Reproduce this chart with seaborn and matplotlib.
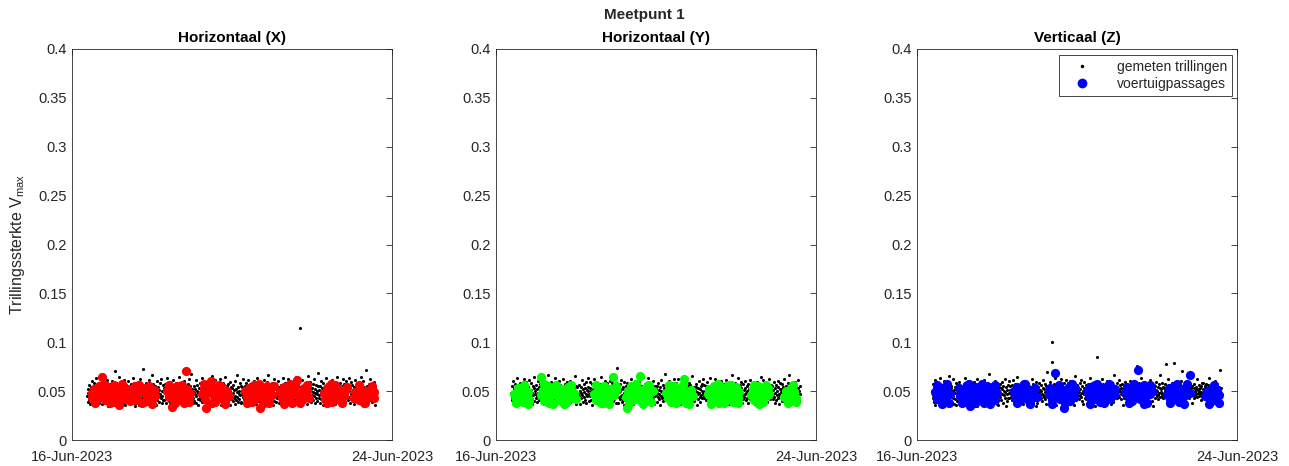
import numpy as np
import pandas as pd
import matplotlib
matplotlib.use("Agg")
import matplotlib.pyplot as plt
import seaborn as sns
from matplotlib.lines import Line2D
from matplotlib.ticker import FuncFormatter

# ---------------- data ----------------
suptitle = "Meetpunt 1"
panel_titles = ["Horizontaal (X)", "Horizontaal (Y)", "Verticaal (Z)"]
ylabel = "Trillingssterkte V$_{max}$"
legend_labels = ["gemeten trillingen", "voertuigpassages"]
x_tick_labels = ["16-Jun-2023", "24-Jun-2023"]
start_date = "2023-06-16"
end_date = "2023-06-24"
y_ticks = [0, 0.05, 0.1, 0.15, 0.2, 0.25, 0.3, 0.35, 0.4]
meas_first_day = 0.38   # first measurement (days after 16-Jun 00:00)
meas_last_day = 7.60    # last measurement

# measured vibrations (Vmax * 1000), regular measurement interval
meas_x = [
45,52,39,48,56,41,50,37,47,54,43,60,49,38,53,46,42,58,51,44,36,55,48,63,
40,47,57,43,51,38,49,62,45,53,41,46,59,50,37,44,55,48,42,65,52,39,47,56,
43,50,61,46,35,54,41,49,57,44,52,38,47,60,42,51,45,56,40,48,71,53,43,50,
58,39,46,53,42,49,64,45,37,52,47,55,41,50,59,44,38,48,54,46,61,42,51,36,
49,56,43,40,52,47,60,38,45,53,50,42,57,46,39,54,48,63,44,51,41,58,47,35,
52,45,38,55,48,41,50,59,44,36,53,47,62,40,49,56,43,51,46,73,39,54,48,42,
47,54,41,58,44,50,37,46,53,61,43,49,40,55,48,38,52,45,66,42,51,57,46,39,
55,42,49,36,53,46,60,41,48,54,39,51,44,58,47,43,62,50,38,45,56,41,49,53,
41,48,57,45,52,38,46,63,43,50,55,40,47,59,44,37,51,48,54,42,46,61,39,52,
50,44,39,53,47,58,42,49,36,55,45,51,64,40,48,43,56,38,52,46,41,59,47,54,
46,53,60,42,49,37,54,45,51,41,57,48,43,62,39,50,46,55,44,68,40,47,52,38,
43,49,55,40,47,52,38,61,45,50,56,42,48,36,53,47,44,58,41,51,46,63,39,54,
51,39,46,57,43,48,54,41,59,45,37,52,49,42,60,47,55,40,46,50,38,53,44,65,
48,55,42,50,37,46,61,44,53,40,49,56,43,47,39,58,51,45,62,41,54,48,36,52,
44,51,58,39,47,53,42,49,64,46,38,55,50,43,57,41,48,52,45,36,59,47,54,42,
53,46,40,56,48,43,51,37,60,45,52,41,49,67,44,39,54,47,50,42,58,46,38,55,
39,47,54,44,51,62,42,48,36,55,45,50,58,41,47,53,43,61,49,40,46,57,52,44,
56,42,49,45,38,53,47,60,41,50,54,44,37,48,63,46,52,40,57,43,49,39,55,47,
42,50,57,39,46,53,44,48,61,41,55,47,43,52,38,59,45,50,66,42,47,54,40,51,
47,55,41,49,58,44,36,52,46,62,40,48,53,45,57,39,51,43,49,60,46,38,54,44,
50,43,56,40,48,54,42,63,47,39,51,45,58,44,49,37,53,46,41,55,48,62,43,52,
45,52,38,57,44,50,47,41,59,53,46,36,49,55,42,64,48,44,51,39,56,47,43,60,
41,115,49,54,45,38,52,47,61,43,50,56,40,48,53,45,58,42,37,51,46,65,49,44,
54,47,42,59,50,44,39,53,46,57,41,49,62,45,38,52,48,43,56,50,40,47,55,69,
43,51,46,38,55,49,60,42,47,53,44,36,58,50,45,41,54,47,63,39,52,46,57,42,
49,44,57,41,52,47,38,55,43,61,48,51,40,46,59,44,50,37,53,47,42,56,45,64,
52,39,46,54,43,58,48,41,50,36,55,45,62,49,43,57,40,52,46,39,60,48,44,53,
46,55,41,50,63,44,38,53,47,59,42,49,56,40,51,45,37,54,48,61,43,50,46,57,
40,48,53,45,58,42,51,39,47,64,44,52,46,55,41,60,49,37,54,43,50,72,45,48,
55,43,49,38,52,46,57,41,62,48,44,53,39,50,56,45,42,59,47,51,36,54,46,49,
]
meas_y = [
48,41,55,44,60,38,51,46,53,42,57,49,36,52,45,63,40,47,54,43,50,58,39,46,
53,45,39,57,47,42,50,62,44,55,38,49,46,59,41,52,48,36,54,45,61,43,51,47,
44,51,58,42,48,37,55,46,53,40,64,47,50,43,56,39,52,45,60,48,41,54,46,50,
57,43,49,54,40,47,52,61,45,38,51,56,44,48,42,58,36,53,47,66,43,50,55,41,
46,53,40,48,59,44,51,37,55,47,42,50,63,45,39,54,48,57,43,52,46,38,60,49,
42,49,56,45,51,38,47,54,41,62,48,44,53,36,50,57,46,40,52,45,59,43,48,55,
51,44,60,39,47,53,45,58,42,49,56,40,46,52,65,43,50,37,55,48,41,54,47,44,
45,56,42,50,37,54,48,43,61,46,52,39,57,44,49,53,41,47,59,38,51,45,63,50,
54,40,47,53,45,59,41,50,46,57,36,52,44,48,62,42,55,47,39,51,56,43,49,46,
39,52,48,44,57,42,51,64,46,38,53,49,41,56,45,50,43,60,47,54,40,48,52,58,
50,46,55,41,48,60,43,52,37,54,47,44,58,40,51,46,63,42,49,55,38,53,45,74,
47,53,38,56,44,49,42,57,50,45,61,39,52,46,54,41,48,36,59,44,51,47,55,43,
43,58,49,46,52,39,55,47,41,53,48,62,44,50,37,56,45,51,43,60,47,40,54,48,
56,44,51,40,47,54,46,59,42,49,38,55,48,53,45,41,64,50,46,52,39,57,43,51,
41,49,54,47,63,43,50,38,56,45,52,48,40,57,44,51,46,60,42,53,37,49,55,45,
52,46,39,55,48,44,58,42,51,47,36,54,50,45,61,43,49,56,40,47,53,44,68,49,
48,55,43,50,41,57,46,52,38,60,45,49,54,42,47,51,39,58,46,53,44,62,41,50,
45,40,52,58,47,43,54,49,62,41,50,46,37,55,48,44,56,42,51,47,59,40,53,46,
53,47,61,44,50,39,48,55,43,52,46,58,41,49,56,45,38,53,47,65,42,50,45,54,
40,51,46,54,43,57,49,36,53,47,42,60,48,44,52,39,55,46,50,57,43,48,62,45,
56,43,50,47,55,41,52,45,59,38,48,54,46,51,42,63,47,40,55,49,44,52,37,50,
47,54,41,48,62,45,51,43,56,47,53,40,58,44,49,46,52,38,60,45,50,55,42,48,
43,50,57,45,39,53,47,61,42,51,48,56,44,37,54,49,45,58,41,52,47,43,66,51,
51,44,48,55,46,42,58,50,39,54,45,49,63,43,51,47,40,56,48,53,44,59,46,38,
46,57,42,51,44,60,47,53,41,48,55,43,50,38,57,45,52,46,61,42,49,54,44,50,
54,41,49,46,58,43,52,37,55,47,44,51,59,42,48,53,46,40,56,50,45,64,43,52,
42,53,47,61,45,50,40,54,48,43,57,46,52,39,55,44,49,62,47,51,42,48,56,45,
49,45,55,42,51,47,59,44,38,53,48,56,41,50,46,60,43,54,47,37,52,45,58,49,
44,52,40,57,47,54,43,50,62,46,41,55,48,44,53,39,58,46,51,67,43,49,54,47,
57,46,51,43,49,38,55,47,52,44,59,41,50,46,54,42,48,61,45,53,40,50,47,55,
]
meas_z = [
50,43,57,46,39,53,48,61,36,51,44,55,47,42,58,49,37,52,40,63,47,54,43,50,
45,52,41,56,48,35,60,38,53,47,50,42,57,46,54,39,51,65,44,49,55,37,48,53,
55,47,50,43,62,45,51,37,54,48,42,58,36,52,40,56,49,44,59,47,53,38,50,45,
41,49,54,47,52,39,57,45,50,63,36,48,55,41,51,46,60,44,53,37,49,56,42,58,
48,56,44,51,38,53,46,59,42,50,47,55,40,49,54,35,62,43,51,57,39,48,52,46,
53,40,49,58,45,52,43,48,56,41,61,47,51,44,38,55,47,50,42,57,36,53,68,44,
46,54,51,42,57,48,39,53,45,50,55,43,49,60,46,52,41,58,37,51,47,36,54,49,
57,44,48,53,41,59,47,52,38,55,46,50,43,62,49,35,54,40,51,47,56,43,48,60,
43,51,55,47,50,44,56,41,49,61,45,53,48,39,57,46,51,37,55,49,64,42,50,46,
52,47,40,54,46,58,43,50,55,42,48,37,53,47,60,44,51,56,41,49,36,58,52,43,
47,55,49,44,53,39,51,46,62,48,43,57,45,52,41,55,47,50,59,35,49,54,38,51,
54,42,58,48,45,51,56,43,50,47,40,53,61,46,52,44,57,49,42,55,37,51,45,70,
44,50,47,55,42,59,46,52,49,43,80,100,54,48,41,57,45,51,63,36,53,44,50,56,
51,46,53,40,57,48,44,55,47,62,50,42,56,45,52,39,58,47,50,54,43,49,61,37,
45,58,43,50,47,53,60,44,51,38,55,48,46,57,42,52,49,56,36,65,47,51,41,54,
56,47,51,45,54,42,49,58,46,52,44,61,48,40,55,50,37,53,47,59,43,51,56,48,
42,53,48,57,44,51,46,55,39,50,63,47,52,45,58,43,49,54,46,41,57,35,52,45,
49,44,85,52,47,56,43,50,59,45,53,48,41,55,47,62,51,44,57,49,36,54,40,51,
55,48,52,44,60,47,51,42,56,49,45,53,37,58,43,50,55,46,39,54,48,67,45,52,
47,51,45,58,43,54,49,46,52,61,44,50,56,47,42,53,48,57,36,51,46,55,43,59,
52,45,56,48,50,43,57,47,53,41,55,49,46,60,44,52,38,54,50,45,58,42,51,48,
44,57,49,53,46,51,76,48,55,43,50,58,45,52,47,63,41,54,49,37,56,43,50,53,
50,46,54,42,58,48,45,52,47,56,43,51,49,61,44,55,46,53,40,57,48,52,35,50,
56,49,43,55,47,51,59,45,50,46,54,42,57,48,53,44,66,49,52,45,58,47,43,54,
45,53,48,50,57,78,46,52,44,55,49,47,62,43,51,56,48,37,53,50,42,58,47,52,
52,79,47,55,45,50,53,46,58,48,44,54,49,57,43,51,47,55,46,60,50,36,53,71,
47,54,51,44,56,48,42,53,50,46,59,45,52,47,55,43,57,49,51,46,53,64,48,38,
55,46,50,53,43,57,49,45,54,47,51,62,44,52,48,56,45,50,47,53,41,55,49,58,
48,52,45,58,50,44,55,47,53,46,57,49,43,51,56,45,52,48,63,47,50,54,44,51,
53,47,56,49,45,52,48,60,44,55,50,46,53,42,57,49,51,45,54,48,72,50,46,53,
]

# vehicle passages: hour after 16-Jun 00:00 and Vmax * 1000
pass_x_hour = [12,12,13,14,15,16,17,18,19,20,21,22,23,24,25,26,27,28,29,30,31,32,33,34,35,36,38,39,41,42,44,45,47,49,50,
               57,58,59,60,61,62,63,64,65,66,67,68,68.6,69,70,71,
               78,79,80,80.6,82,83,83.6,85,86,87,88,89,90,91,92,93,94,
               104,105,106,107,108,109,110,111,112.6,113,114,115,116,117,118,119,120,
               125,126,127,128,129,130,131,132,133,134,135,136,137,138,139,140,141,142,
               151,152,153,154,155.5,156,157,158,159,160,161,162,163,164,
               169,170,171,172,173,174,175,176,177,178,179,180,181,181,
               14,20,26,30,37,40,43,46,48,58,62,66,70,79,84,88,92,105,108,112,118,121,
               127,131,137,141,153,158,162,165,172,176,180]
pass_x_val = [48,43,52,39,47,55,44,64,50,41,53,46,38,49,56,43,51,36,47,54,42,49,45,52,40,48,55,44,50,38,53,46,41,51,45,
              50,44,53,34,47,41,55,49,43,51,38,46,71,52,44,48,
              47,52,42,33,49,55,60,45,39,51,47,43,54,48,40,50,45,
              50,44,53,40,47,56,42,49,33,45,52,38,48,55,43,50,46,
              49,43,54,40,47,52,45,38,50,56,61,44,48,41,53,46,50,43,
              48,42,53,45,57,39,50,44,47,52,41,48,45,50,
              43,49,46,41,53,47,38,50,44,48,52,45,49,43,
              38,56,39,57,41,56,39,55,37,56,38,56,39,57,38,56,37,38,39,57,38,55,
              37,57,38,56,38,56,38,54,56,38,55]

pass_y_hour = [11,12,13,14,15,16,17,18,19,20,
               27,27,28,29,30,31,32,33,34,35,36,37,38,39,40,41,42,43,44,45,46,47,48,
               59,60,61,62,63,64,65,66,67,68,69,70,71,72,
               78,78.4,79,80,81,82,83,84,85,86.4,87,88,89,90,91,92,93,94,
               102,103,104,105,106,107,108,109,110,111,112,113,114,115,116,117,118,
               127,128,129,130,131,132,133,134,135,136,137,138,139,140,141,142,143,144,145,146,
               153,154,155,156,157,158,159,160,161,162,163,164,
               173,174,175,176,177,178,179,180,
               12,17,19,29,32,36,41,45,60,64,68,72,80,84,88,92,104,108,112,116,
               129,133,137,141,145,155,158,162,175,178,180]
pass_y_val = [47,42,53,45,50,39,55,44,49,41,
              64,46,51,40,48,55,43,50,37,47,53,44,41,52,46,49,38,54,45,50,43,48,42,
              47,41,53,45,38,50,55,44,48,42,52,64,46,51,
              44,33,50,46,55,41,49,53,45,65,40,48,52,44,56,47,39,50,
              48,43,52,39,47,55,44,50,41,53,46,62,38,49,44,51,45,
              47,52,40,48,55,44,51,38,46,53,49,42,56,45,50,39,47,54,43,49,
              46,52,41,49,55,44,48,39,51,45,53,47,
              44,50,47,41,53,46,49,43,
              38,56,37,57,38,56,37,56,56,38,37,55,38,57,37,56,56,38,56,37,
              37,57,38,56,38,56,37,56,38,56,39]

pass_z_hour = [11,12,13,14,15,16,17,18,19,20,
               25,26,27,28,29,30,31,32,33,34,35,36,37,38,39,40,41,42,43,44,45,46,47,48,
               58,59,60,61,62,63,64,65,66,67,68,69,70,71,72,
               79,80,81,82,83,84,85,86,87,88,89,90,91,92,93,94,95,
               102,103,104,105,106,107,108,109,110,111,112,113,114,115,116,117,118,119,
               125,126,127,128,129,130,131,132,132.7,133,134,135,136,137,138,139,140,141,
               150,151,152,153,154,155,156,157,158,159,160,161,162,163.7,164,
               173,174,175,176,177,178,179,180,181,
               12,15,18,27,31,35,39,44,47,60,64,68,81,85,89,93,104,108,112,116,
               127,130,136,140,152,156,160,175,178,181]
pass_z_val = [49,42,54,46,40,52,44,50,38,47,
              53,45,50,41,48,56,43,35,51,47,54,40,49,45,52,38,47,55,43,50,46,53,41,48,
              50,44,54,40,48,52,45,57,42,49,38,51,46,53,44,
              47,53,41,50,69,45,55,42,48,33,51,46,54,40,49,44,52,
              50,45,54,41,48,56,43,51,39,47,53,45,49,57,42,50,46,52,
              48,54,43,50,40,47,55,45,72,51,42,49,56,44,38,52,47,50,
              46,53,42,49,55,44,50,39,47,52,45,51,57,67,48,
              45,50,43,48,53,41,47,51,46,
              56,37,57,38,57,38,57,37,56,38,57,37,37,56,38,57,37,57,38,56,
              38,57,37,56,38,57,37,37,56,38]

# ---------------- figure ----------------
sns.set_style("white")
plt.rcParams["font.family"] = ["Liberation Sans", "DejaVu Sans"]
plt.rcParams["mathtext.fontset"] = "custom"
plt.rcParams["mathtext.rm"] = "Liberation Sans"
plt.rcParams["mathtext.it"] = "Liberation Sans"

W, H = 1289, 466
fig = plt.figure(figsize=(W / 100, H / 100), dpi=100)
lefts = [72, 496, 917]
ax_w, ax_top, ax_bot = 320, 49, 440

meas_sets = [meas_x, meas_y, meas_z]
pass_sets = [(pass_x_hour, pass_x_val), (pass_y_hour, pass_y_val), (pass_z_hour, pass_z_val)]
colors = ["#ff0000", "#00ff00", "#0000ff"]
axis_col = "#262626"
t0 = pd.Timestamp(start_date)

for i in range(3):
    ax = fig.add_axes([lefts[i] / W, (H - ax_bot) / H, ax_w / W, (ax_bot - ax_top) / H])
    mv = np.array(meas_sets[i]) / 1000.0
    days = np.linspace(meas_first_day, meas_last_day, len(mv))
    df_m = pd.DataFrame({"t": t0 + pd.to_timedelta(days, unit="D"), "v": mv})
    ph, pv = pass_sets[i]
    df_p = pd.DataFrame({"t": t0 + pd.to_timedelta(np.array(ph, dtype=float), unit="h"),
                         "v": np.array(pv) / 1000.0})
    sns.scatterplot(data=df_m, x="t", y="v", ax=ax, color="black", s=5, linewidth=0,
                    marker="o", legend=False, zorder=2)
    sns.scatterplot(data=df_p, x="t", y="v", ax=ax, color=colors[i], s=44, linewidth=0,
                    marker="o", legend=False, zorder=3)

    ax.set_xlim(pd.Timestamp(start_date), pd.Timestamp(end_date))
    ax.set_ylim(0, 0.4)
    ax.set_xticks([pd.Timestamp(start_date), pd.Timestamp(end_date)])
    ax.set_xticklabels(x_tick_labels)
    ax.set_yticks(y_ticks)
    ax.yaxis.set_major_formatter(FuncFormatter(lambda v, p: f"{v:g}"))
    ax.set_xlabel("")
    ax.set_ylabel("")
    ax.tick_params(direction="in", length=4, width=0.6, colors=axis_col,
                   labelsize=10.5, right=True, top=True, pad=4)
    ax.tick_params(axis="x", pad=7)
    for sp in ax.spines.values():
        sp.set_color(axis_col)
        sp.set_linewidth(0.6)
        sp.set_visible(True)
    ax.set_title(panel_titles[i], fontsize=11, fontweight="bold", pad=5, color="black")
    if i == 0:
        ax.set_ylabel(ylabel, fontsize=11.5, color=axis_col, labelpad=8)
    if i == 2:
        handles = [Line2D([], [], linestyle="none", marker="o", markersize=1.5,
                          color="black"),
                   Line2D([], [], linestyle="none", marker="o", markersize=6,
                          color=colors[2])]
        leg = ax.legend(handles, legend_labels, loc="upper right", fontsize=10,
                        frameon=True, fancybox=False, framealpha=1, edgecolor=axis_col,
                        borderpad=0.35, handletextpad=1.2, handlelength=2.6,
                        labelspacing=0.25, bbox_to_anchor=(0.985, 0.985), borderaxespad=0)
        leg.get_frame().set_linewidth(0.6)

fig.text(0.5, 1 - 15 / H, suptitle, ha="center", va="center", fontsize=11,
         fontweight="bold")

fig.savefig("out.png", dpi=100)
